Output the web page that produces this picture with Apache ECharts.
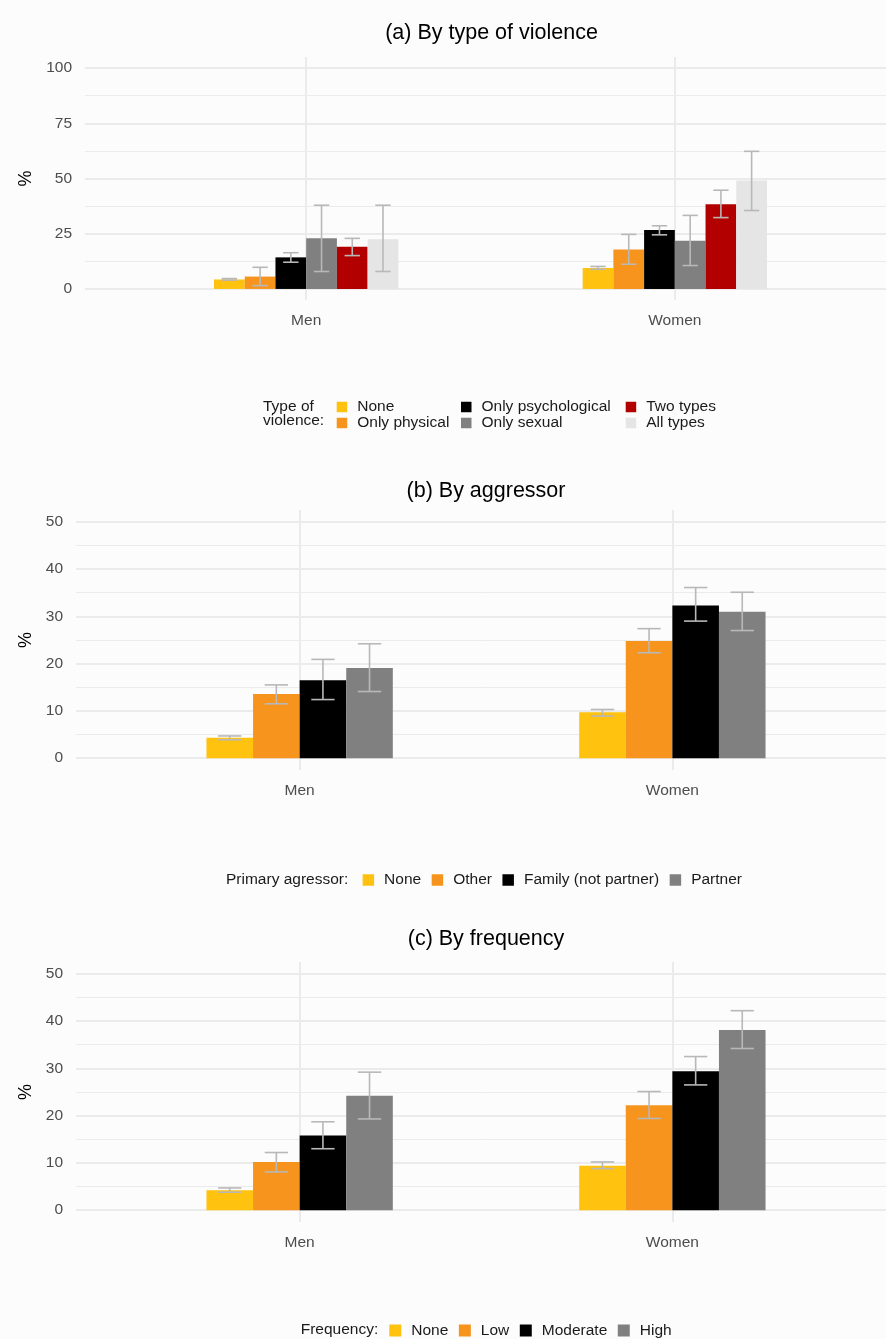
<!DOCTYPE html>
<html>
<head>
<meta charset="utf-8">
<script src="https://cdn.jsdelivr.net/npm/echarts@6/dist/echarts.min.js"></script>
<style>
  html, body { margin: 0; padding: 0; background: #fcfcfc; }
  #chart { width: 886px; height: 1339px; }
</style>
</head>
<body>
<div id="chart"></div>
<script>
// ---------- data ----------
const genders = ['Men', 'Women'];

// (a) By type of violence
const typeNames  = ['None', 'Only physical', 'Only psychological', 'Only sexual', 'Two types', 'All types'];
const typeValues = [[4.3, 9.5], [5.6, 17.9], [14.3, 26.7], [22.9, 21.8], [19.1, 38.3], [22.5, 49.1]];
const typeLower  = [[4.0, 8.9], [1.5, 11.2], [12.1, 24.5], [7.9, 10.6], [15.1, 32.3], [7.9, 35.5]];
const typeUpper  = [[4.7, 10.2], [9.8, 24.7], [16.4, 28.6], [37.9, 33.3], [22.9, 44.7], [37.9, 62.3]];

// (b) By aggressor
const aggrNames  = ['None', 'Other', 'Family (not partner)', 'Partner'];
const aggrValues = [[4.3, 9.7], [13.6, 24.8], [16.5, 32.3], [19.1, 31.0]];
const aggrLower  = [[3.9, 8.9], [11.5, 22.3], [12.4, 29.0], [14.1, 27.0]];
const aggrUpper  = [[4.7, 10.3], [15.5, 27.4], [20.9, 36.1], [24.2, 35.1]];

// (c) By frequency
const freqNames  = ['None', 'Low', 'Moderate', 'High'];
const freqValues = [[4.2, 9.4], [10.2, 22.2], [15.8, 29.4], [24.2, 38.1]];
const freqLower  = [[3.8, 8.8], [8.1, 19.4], [13.0, 26.5], [19.3, 34.2]];
const freqUpper  = [[4.7, 10.2], [12.2, 25.1], [18.7, 32.5], [29.2, 42.2]];

// tick labels
const ticksA = [0, 25, 50, 75, 100];
const minorA = [12.5, 37.5, 62.5, 87.5];
const ticksBC = [0, 10, 20, 30, 40, 50];
const minorBC = [5, 15, 25, 35, 45];

// ---------- styling ----------
const FONT = '"Liberation Sans", Arial, sans-serif';
const palette6 = ['#FFC20E', '#F7941D', '#000000', '#808080', '#B20000', '#E5E5E5'];
const palette4 = ['#FFC20E', '#F7941D', '#000000', '#808080'];
const gridColor = '#EBEBEB';
const errColor = '#B8B8B8';

const panels = [
  { names: typeNames, values: typeValues, lower: typeLower, upper: typeUpper, colors: palette6,
    grid: { left: 85, width: 811, top: 57, height: 243 }, ymin: -5, ymax: 105, ticks: ticksA, minor: minorA, nameGap: 47 },
  { names: aggrNames, values: aggrValues, lower: aggrLower, upper: aggrUpper, colors: palette4,
    grid: { left: 76, width: 820, top: 510, height: 260 }, ymin: -2.5, ymax: 52.5, ticks: ticksBC, minor: minorBC, nameGap: 38 },
  { names: freqNames, values: freqValues, lower: freqLower, upper: freqUpper, colors: palette4,
    grid: { left: 76, width: 820, top: 962, height: 260 }, ymin: -2.5, ymax: 52.5, ticks: ticksBC, minor: minorBC, nameGap: 38 }
];

function makeRender(idx, n) {
  return function (params, api) {
    const x = api.value(0), v = api.value(1), lo = api.value(2), hi = api.value(3);
    const w = 0.5 / n;
    const x0 = x - 0.25 + w * idx, x1 = x0 + w, xc = x0 + w / 2;
    const p0 = api.coord([x0, 0]);
    const p1 = api.coord([x1, v]);
    const pl = api.coord([xc, lo]);
    const ph = api.coord([xc, hi]);
    const bw = p1[0] - p0[0];
    const cap = bw * 0.25;
    const es = { stroke: errColor, lineWidth: 1.6 };
    return {
      type: 'group',
      children: [
        { type: 'rect', shape: { x: p0[0], y: p1[1], width: bw, height: p0[1] - p1[1] }, style: { fill: api.visual('color') } },
        { type: 'line', shape: { x1: pl[0], y1: pl[1], x2: ph[0], y2: ph[1] }, style: es },
        { type: 'line', shape: { x1: pl[0] - cap, y1: pl[1], x2: pl[0] + cap, y2: pl[1] }, style: es },
        { type: 'line', shape: { x1: ph[0] - cap, y1: ph[1], x2: ph[0] + cap, y2: ph[1] }, style: es }
      ]
    };
  };
}

const grids = [], xAxes = [], yAxes = [], series = [];
panels.forEach((p, pi) => {
  grids.push(Object.assign({ outerBoundsMode: 'none', containLabel: false }, p.grid));
  xAxes.push({
    type: 'value', gridIndex: pi, min: 0.4, max: 2.6,
    axisLine: { show: false },
    axisTick: { show: false, customValues: [1, 2] },
    axisLabel: { customValues: [1, 2], formatter: v => genders[Math.round(v) - 1], color: '#4D4D4D',
                 fontSize: 15.5, fontFamily: FONT, margin: 13 },
    splitLine: { show: true, lineStyle: { color: gridColor, width: 2 } }
  });
  yAxes.push({
    type: 'value', gridIndex: pi, min: p.ymin, max: p.ymax,
    name: '%', nameLocation: 'middle', nameRotate: 90, nameGap: p.nameGap,
    nameTextStyle: { color: '#000', fontSize: 18, fontFamily: FONT },
    axisLine: { show: false },
    axisTick: { show: false, customValues: p.ticks },
    axisLabel: { customValues: p.ticks, color: '#4D4D4D', fontSize: 15.5, fontFamily: FONT, margin: 13 },
    splitLine: { show: true, lineStyle: { color: gridColor, width: 2 } }
  });
  yAxes.push({
    type: 'value', gridIndex: pi, min: p.ymin, max: p.ymax,
    axisLine: { show: false },
    axisTick: { show: false, customValues: p.minor },
    axisLabel: { show: false, customValues: p.minor },
    splitLine: { show: true, lineStyle: { color: gridColor, width: 1 } }
  });
  p.names.forEach((name, i) => {
    const n = p.names.length;
    series.push({
      type: 'custom', name: name, xAxisIndex: pi, yAxisIndex: pi * 2,
      color: p.colors[i], itemStyle: { color: p.colors[i] },
      renderItem: makeRender(i, n),
      encode: { x: 0, y: 1 },
      data: genders.map((g, j) => [j + 1, p.values[i][j], p.lower[i][j], p.upper[i][j]]),
      z: 2
    });
  });
});

const legendText = { color: '#1A1A1A', fontSize: 15.5, fontFamily: FONT, padding: [0, 0, 0, 5] };
const legends = [
  { left: 336.7, top: 399, data: [typeNames[0], typeNames[1]] },
  { left: 461, top: 399, data: [typeNames[2], typeNames[3]] },
  { left: 625.7, top: 399, data: [typeNames[4], typeNames[5]] }
].map(l => Object.assign({
  orient: 'vertical', itemWidth: 10.5, itemHeight: 10.5, itemGap: 0, padding: 0,
  icon: 'rect', selectedMode: false,
  textStyle: Object.assign({}, legendText, { lineHeight: 14.5 })
}, l));

legends.push({
  orient: 'horizontal', left: 362.6, top: 872, itemWidth: 11.5, itemHeight: 11.5, itemGap: 10.5, padding: 0,
  icon: 'rect', selectedMode: false, data: aggrNames.slice(),
  textStyle: Object.assign({}, legendText, { lineHeight: 15 })
});
legends.push({
  orient: 'horizontal', left: 389.3, top: 1322.5, itemWidth: 12, itemHeight: 12, itemGap: 10.5, padding: 0,
  icon: 'rect', selectedMode: false, data: freqNames.slice(),
  textStyle: Object.assign({}, legendText, { lineHeight: 15 })
});

function txt(x, y, text, size, align, extra) {
  return {
    type: 'text', x: x, y: y, silent: true,
    style: Object.assign({ text: text, fill: '#000', font: size + 'px ' + FONT, align: align, verticalAlign: 'middle' }, extra || {})
  };
}

const graphics = [
  txt(491.5, 33, '(a) By type of violence', 21.5, 'center'),
  txt(486, 491, '(b) By aggressor', 21.5, 'center'),
  txt(486, 939, '(c) By frequency', 21.5, 'center'),
  { type: 'text', x: 263, y: 399, silent: true,
    style: { text: 'Type of\nviolence:', fill: '#1A1A1A', font: '15.5px ' + FONT, align: 'left', verticalAlign: 'top', lineHeight: 14.5 } },
  txt(226, 879.5, 'Primary agressor:', 15.5, 'left', { fill: '#1A1A1A' }),
  txt(300.7, 1330, 'Frequency:', 15.5, 'left', { fill: '#1A1A1A' })
];

const chart = echarts.init(document.getElementById('chart'), null, { renderer: 'canvas' });
chart.setOption({
  animation: false,
  backgroundColor: '#fcfcfc',
  grid: grids,
  xAxis: xAxes,
  yAxis: yAxes,
  legend: legends,
  graphic: graphics,
  series: series
});
</script>
</body>
</html>
